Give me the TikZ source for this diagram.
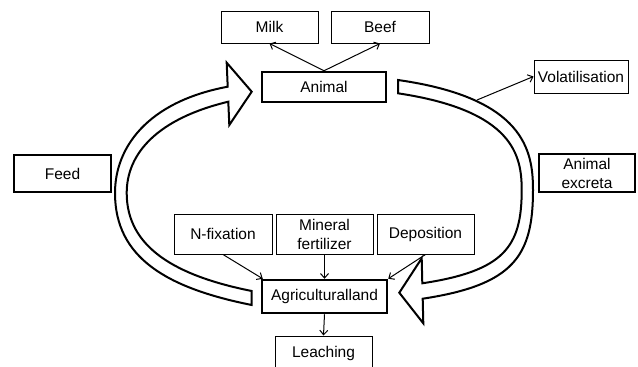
\documentclass[tikz,border=0pt]{standalone}
\usepackage{fontspec}
\setmainfont{Liberation Sans}
\usetikzlibrary{arrows.meta}
\begin{document}
\begin{tikzpicture}[x=1pt,y=-1pt,
  thinbox/.style={draw, line width=1pt, inner sep=0pt, align=center,
    font=\fontsize{15.5}{19}\selectfont},
  thickbox/.style={thinbox, line width=2.5pt},
  conn/.style={line width=1pt, -{Straight Barb[length=4.5pt,width=8pt,line width=1pt]}},
  bigarrow/.style={line width=2pt, line join=miter}]
\useasboundingbox (0,0) rectangle (638,367);
\clip (0,0) rectangle (638,367);

% boxes
\node[thinbox, minimum width=97pt, minimum height=32pt] (milk) at (269.5,27) {Milk};
\node[thinbox, minimum width=98pt, minimum height=32pt] (beef) at (380,27) {Beef};
\node[thickbox, minimum width=124pt, minimum height=30pt] (animal) at (324,87) {Animal};
\node[thinbox, minimum width=94pt, minimum height=33pt] (vol) at (581,76.5) {Volatilisation};
\node[thickbox, minimum width=96pt, minimum height=38pt] (excr) at (587,173) {Animal\\excreta};
\node[thickbox, minimum width=97pt, minimum height=37pt] (feed) at (62.5,173.5) {Feed};
\node[thinbox, minimum width=98pt, minimum height=40pt] (nfix) at (223,234) {N-fixation};
\node[thinbox, minimum width=97pt, minimum height=40pt] (mineral) at (324.5,234) {Mineral\\fertilizer};
\node[thinbox, minimum width=97pt, minimum height=40pt] (depo) at (425.5,234) {Deposition};
\node[thickbox, minimum width=125pt, minimum height=33pt] (agri) at (324.5,296.5) {Agriculturalland};
\node[thinbox, minimum width=97pt, minimum height=34pt] (leach) at (323.5,353) {Leaching};

% big hollow arrows
\draw[bigarrow] (251.7,305) .. controls (167,288) and (115,258) .. (115,193)
  .. controls (115,148) and (146.7,101.9) .. (227.7,86.7)
  -- (226.7,62.7) -- (251.7,91.7) -- (229.3,125) -- (228.3,101.7)
  .. controls (158,118.5) and (126.7,153) .. (126.7,193)
  .. controls (126.7,248) and (176.7,276) .. (251.7,291) -- cycle;

\draw[bigarrow] (398,80) .. controls (524.7,98) and (533,151) .. (533,190)
  .. controls (533,256) and (513.7,284.9) .. (422.7,298.7)
  -- (423.3,323.3) -- (399.3,292.7) -- (421.7,258.3) -- (422.3,283.3)
  .. controls (504.2,270.9) and (521.7,246.8) .. (521.7,190)
  .. controls (521.7,156) and (514,110.7) .. (398,93.3) -- cycle;

\coordinate (volstart) at (477,100);

% connectors
\draw[conn] (animal.north) -- (milk.south);
\draw[conn] (animal.north) -- (beef.south);
\draw[conn] (volstart) -- (vol.west);
\draw[conn] (nfix.south) -- ([xshift=2pt]agri.north west);
\draw[conn] (mineral.south) -- (agri.north);
\draw[conn] (depo.south) -- (agri.north east);
\draw[conn] (agri.south) -- (leach.north);
\end{tikzpicture}
\end{document}
